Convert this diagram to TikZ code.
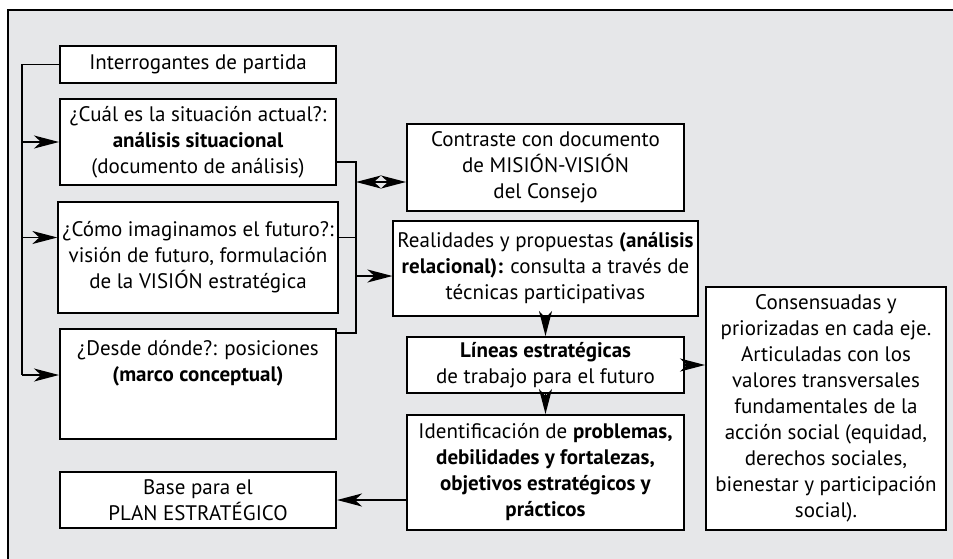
\documentclass[tikz,border=0pt]{standalone}
\usepackage{fontspec}
\setmainfont{PT Sans}
\usetikzlibrary{calc,positioning,arrows.meta}
\definecolor{PanelGray}{RGB}{230,231,233}

\begin{document}
\begin{tikzpicture}[x=0.5pt,y=-0.5pt,>={Stealth[length=12.5pt,width=6.5pt,inset=3.5pt]},
  box/.style={draw,fill=white,line width=1pt,align=center,inner sep=2pt,
    font=\fontsize{10.5}{13}\selectfont},
  wire/.style={line width=0.8pt}]
\clip (0,0) rectangle (953,558);
\draw[fill=PanelGray,line width=0.9pt] (8,10) rectangle (980,590);
% left column
\node[box,minimum width=138pt,minimum height=18.5pt] (inter) at (198,64.5) {Interrogantes de partida};
\node[box,minimum width=138pt,minimum height=43pt] (cual) at (198,142) {¿Cuál es la situación actual?:\\\textbf{análisis situacional}\\(documento de análisis)};
\node[box,minimum width=138pt,minimum height=55.5pt] (como) at (198,257.5) {¿Cómo imaginamos el futuro?:\\visión de futuro, formulación\\de la VISIÓN estratégica};
\node[box,minimum width=138pt,minimum height=55pt] (desde) at (198,384) {¿Desde dónde?: posiciones\\\textbf{(marco conceptual)}\\[10pt]};
\node[box,minimum width=138pt,minimum height=28pt] (base) at (198,500) {Base para el\\PLAN ESTRATÉGICO};
% middle column
\node[box,minimum width=138.5pt,minimum height=43.5pt] (contraste) at (545.5,167) {Contraste con documento\\de MISIÓN-VISIÓN\\del Consejo};
\node[box,minimum width=138.5pt,minimum height=47.5pt] (real) at (545.5,268.5) {Realidades y propuestas \textbf{(análisis}\\\textbf{relacional):} consulta a través de\\técnicas participativas};
\node[box,minimum width=138.5pt,minimum height=28pt] (lineas) at (545.5,365) {\textbf{Líneas estratégicas}\\de trabajo para el futuro};
\node[box,minimum width=138.5pt,minimum height=57.5pt] (ident) at (545.5,472.5) {Identificación de \textbf{problemas,}\\\textbf{debilidades y fortalezas,}\\\textbf{objetivos estratégicos y}\\\textbf{prácticos}};
% right column
\node[box,minimum width=120pt,minimum height=121.5pt] (cons) at (826,408.5) {Consensuadas y\\priorizadas en cada eje.\\Articuladas con los\\valores transversales\\fundamentales de la\\acción social (equidad,\\derechos sociales,\\bienestar y participación\\social).};
% buses
\coordinate (lbus) at (22,0);
\coordinate (rbus) at (356,0);
\coordinate (cmin) at ([yshift=10pt]como.west);
\coordinate (dsin) at ([yshift=4.5pt]desde.west);
\coordinate (cuout) at ([yshift=-10pt]cual.east);
\coordinate (cmout) at ([yshift=10pt]como.east);
\coordinate (dsout) at ([yshift=25.5pt]desde.east);
\coordinate (ctin) at ([yshift=-7.5pt]contraste.west);
\coordinate (rin) at ([yshift=-3.75pt]real.west);
\draw[wire] (inter.west) -| (lbus |- dsin);
\draw[wire,->] (lbus |- cual.west) -- (cual.west);
\draw[wire,->] (lbus |- cmin) -- (cmin);
\draw[wire,->] (lbus |- dsin) -- (dsin);
\draw[wire] (cuout) -| (rbus |- dsout) -- (dsout);
\draw[wire] (cmout) -- (rbus |- cmout);
\draw[wire,<->] (rbus |- ctin) -- (ctin);
\draw[wire,->] (rbus |- rin) -- (rin);
\draw[wire,->] (real) -- (lineas);
\draw[wire,->] (lineas) -- (ident);
\draw[wire,->] (lineas.east) -- (lineas.east -| cons.west);
\draw[wire,->] (ident.west |- base.east) -- (base.east);
\end{tikzpicture}
\end{document}
